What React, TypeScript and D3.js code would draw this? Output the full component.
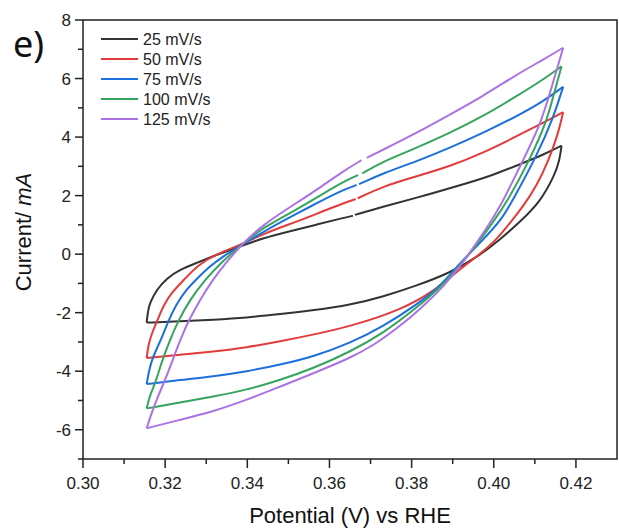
import React from "react";
import * as d3 from "d3";

type P = [number, number] | null;

// Scan-rate legend labels
const seriesLabels = ["25 mV/s", "50 mV/s", "75 mV/s", "100 mV/s", "125 mV/s"];
const seriesColors = ["#333333", "#e23b3b", "#1c6fdc", "#35a45e", "#ab72e4"];

// Axis ticks
const xMajorTicks = [0.30, 0.32, 0.34, 0.36, 0.38, 0.40, 0.42];
const xMinorTicks = [0.31, 0.33, 0.35, 0.37, 0.39, 0.41];
const yMajorTicks = [8, 6, 4, 2, 0, -2, -4, -6];
const yMinorTicks = [7, 5, 3, 1, -1, -3, -5, -7];

// 25 mV/s
const anodic25: P[] = [
  [0.3155, -2.34], [0.3158, -1.95], [0.3163, -1.66], [0.3179, -1.22], [0.3204, -0.82], [0.3236, -0.53],
  [0.3277, -0.30], [0.3325, -0.02], [0.3382, 0.26], [0.3439, 0.55], [0.3504, 0.78],
  [0.3569, 1.01], [0.3634, 1.24], [0.3657, 1.31], null, [0.3662, 1.34],
  [0.3731, 1.63], [0.3812, 1.92], [0.3910, 2.32], [0.3991, 2.66], [0.4072, 3.12],
  [0.4121, 3.40], [0.4165, 3.71],
];
const cathodic25: P[] = [
  [0.4165, 3.71], [0.4160, 3.20], [0.4149, 2.72], [0.4112, 1.76], [0.4064, 1.11], [0.4015, 0.49],
  [0.3958, -0.12], [0.3893, -0.64], [0.3812, -1.08], [0.3731, -1.45], [0.3650, -1.74],
  [0.3561, -1.92], [0.3480, -2.05], [0.3398, -2.17], [0.3317, -2.24], [0.3236, -2.30],
  [0.3155, -2.34],
];

// 50 mV/s
const anodic50: P[] = [
  [0.3155, -3.55], [0.3159, -3.10], [0.3168, -2.69], [0.3180, -2.31], [0.3195, -1.77],
  [0.3217, -1.29], [0.3246, -0.88], [0.3277, -0.40], [0.3325, 0.01], [0.3382, 0.30],
  [0.3439, 0.70], [0.3520, 1.11], [0.3569, 1.38], [0.3634, 1.74], [0.3664, 1.88], null,
  [0.3669, 1.91], [0.3731, 2.32], [0.3812, 2.66], [0.3893, 3.00], [0.3974, 3.46],
  [0.4056, 4.03], [0.4121, 4.49], [0.4169, 4.85],
];
const cathodic50: P[] = [
  [0.4169, 4.85], [0.4156, 4.08], [0.4134, 3.23], [0.4105, 2.34], [0.4071, 1.62],
  [0.4042, 1.11], [0.4007, 0.49], [0.3958, -0.09], [0.3910, -0.60], [0.3853, -1.28],
  [0.3772, -1.92], [0.3650, -2.47], [0.3561, -2.75], [0.3480, -2.98], [0.3398, -3.19],
  [0.3317, -3.33], [0.3236, -3.44], [0.3155, -3.55],
];

// 75 mV/s
const anodic75: P[] = [
  [0.3155, -4.44], [0.3161, -3.96], [0.3168, -3.61], [0.3178, -3.27], [0.3192, -2.86],
  [0.3207, -2.31], [0.3226, -1.74], [0.3251, -1.22], [0.3275, -0.88], [0.3304, -0.47],
  [0.3343, -0.05], [0.3382, 0.27], [0.3439, 0.77], [0.3520, 1.38], [0.3569, 1.74],
  [0.3634, 2.20], [0.3666, 2.36], null, [0.3672, 2.39], [0.3731, 2.77], [0.3812, 3.17],
  [0.3893, 3.63], [0.3974, 4.14], [0.4056, 4.71], [0.4121, 5.22], [0.4169, 5.72],
];
const cathodic75: P[] = [
  [0.4169, 5.72], [0.4145, 4.66], [0.4104, 3.34], [0.4047, 1.86], [0.4019, 1.18],
  [0.3974, 0.49], [0.3918, -0.30], [0.3869, -1.11], [0.3812, -1.73], [0.3731, -2.47],
  [0.3650, -3.04], [0.3561, -3.50], [0.3480, -3.78], [0.3398, -4.01], [0.3317, -4.18],
  [0.3236, -4.30], [0.3155, -4.44],
];

// 100 mV/s
const anodic100: P[] = [
  [0.3155, -5.27], [0.3163, -4.81], [0.3175, -4.44], [0.3185, -3.99], [0.3195, -3.55],
  [0.3212, -2.93], [0.3231, -2.30], [0.3260, -1.56], [0.3297, -0.88], [0.3338, -0.26],
  [0.3382, 0.27], [0.3439, 0.92], [0.3520, 1.52], [0.3569, 1.93], [0.3634, 2.48],
  [0.3670, 2.70], null, [0.3680, 2.76], [0.3731, 3.17], [0.3812, 3.63], [0.3893, 4.14],
  [0.3974, 4.71], [0.4056, 5.40], [0.4121, 5.97], [0.4165, 6.42],
];
const cathodic100: P[] = [
  [0.4165, 6.42], [0.4145, 5.40], [0.4129, 4.54], [0.4088, 3.23], [0.4031, 1.75],
  [0.3999, 1.11], [0.3966, 0.46], [0.3926, -0.25], [0.3877, -1.05], [0.3812, -1.84],
  [0.3731, -2.70], [0.3650, -3.34], [0.3561, -3.90], [0.3480, -4.30], [0.3398, -4.64],
  [0.3317, -4.87], [0.3236, -5.07], [0.3155, -5.27],
];

// 125 mV/s
const anodic125: P[] = [
  [0.3155, -5.95], [0.3168, -5.39], [0.3183, -4.84], [0.3200, -4.30], [0.3220, -3.55],
  [0.3239, -2.86], [0.3256, -2.30], [0.3285, -1.56], [0.3314, -0.91], [0.3346, -0.33],
  [0.3382, 0.27], [0.3439, 1.02], [0.3520, 1.75], [0.3569, 2.20], [0.3634, 2.84],
  [0.3678, 3.21], null, [0.3691, 3.29], [0.3731, 3.57], [0.3812, 4.14], [0.3893, 4.77],
  [0.3974, 5.40], [0.4056, 6.14], [0.4121, 6.65], [0.4169, 7.05],
];
const cathodic125: P[] = [
  [0.4169, 7.05], [0.4137, 5.51], [0.4112, 4.37], [0.4064, 3.00], [0.4015, 1.59],
  [0.3983, 0.90], [0.3950, 0.22], [0.3918, -0.42], [0.3877, -1.11], [0.3828, -1.79],
  [0.3764, -2.55], [0.3707, -3.12], [0.3650, -3.55], [0.3561, -4.07], [0.3480, -4.53],
  [0.3398, -4.98], [0.3317, -5.38], [0.3236, -5.66], [0.3155, -5.95],
];

const anodicAll = [anodic25, anodic50, anodic75, anodic100, anodic125];
const cathodicAll = [cathodic25, cathodic50, cathodic75, cathodic100, cathodic125];

const W = 619;
const H = 528;
const left = 83, right = 617, top = 20, bottom = 459;
const FONT = "Arial, 'Liberation Sans', sans-serif";
const AXIS = "#222";

export default function App() {
  const x = d3.scaleLinear().domain([0.30, 0.43]).range([left, right]);
  const y = d3.scaleLinear().domain([-7, 8]).range([bottom, top]);
  const line = d3
    .line<P>()
    .defined((d) => d !== null)
    .x((d) => x((d as [number, number])[0]))
    .y((d) => y((d as [number, number])[1]))
    .curve(d3.curveBasis);

  return (
    <svg
      width={W}
      height={H}
      viewBox={`0 0 ${W} ${H}`}
      style={{ position: "absolute", left: 0, top: 0, background: "#fff" }}
      fontFamily={FONT}
    >
      <rect x={0} y={0} width={W} height={H} fill="#fff" />
      {/* curves */}
      <g fill="none" strokeWidth={2} strokeLinejoin="round" strokeLinecap="butt">
        {seriesLabels.map((s, k) => (
          <g key={s} stroke={seriesColors[k]}>
            <path d={line(anodicAll[k]) || ""} />
            <path d={line(cathodicAll[k]) || ""} />
          </g>
        ))}
      </g>
      {/* frame */}
      <rect
        x={left}
        y={top}
        width={right - left}
        height={bottom - top}
        fill="none"
        stroke={AXIS}
        strokeWidth={1.5}
      />
      {/* x ticks */}
      {xMajorTicks.map((t) => (
        <g key={"xm" + t}>
          <line x1={x(t)} x2={x(t)} y1={bottom} y2={bottom + 9} stroke={AXIS} strokeWidth={1.5} />
          <text x={x(t)} y={489} textAnchor="middle" fontSize={17} fill="#222">
            {t.toFixed(2)}
          </text>
        </g>
      ))}
      {xMinorTicks.map((t) => (
        <line key={"xn" + t} x1={x(t)} x2={x(t)} y1={bottom} y2={bottom + 5} stroke={AXIS} strokeWidth={1.5} />
      ))}
      {/* y ticks */}
      {yMajorTicks.map((t) => (
        <g key={"ym" + t}>
          <line x1={left - 8} x2={left} y1={y(t)} y2={y(t)} stroke={AXIS} strokeWidth={1.5} />
          <text x={71} y={y(t) + 6} textAnchor="end" fontSize={17} fill="#222">
            {t}
          </text>
        </g>
      ))}
      {yMinorTicks.map((t) => (
        <line key={"yn" + t} x1={left - 5} x2={left} y1={y(t)} y2={y(t)} stroke={AXIS} strokeWidth={1.5} />
      ))}
      {/* axis titles */}
      <text x={350} y={523} textAnchor="middle" fontSize={22} fill="#111">
        Potential (V) vs RHE
      </text>
      <text
        transform={`translate(31,232) rotate(-90)`}
        textAnchor="middle"
        fontSize={22}
        fill="#111"
      >
        Current/ <tspan fontStyle="italic">mA</tspan>
      </text>
      {/* panel label */}
      <text x={13} y={57} fontSize={36} fill="#111" fontFamily="'Noto Sans', 'Open Sans', sans-serif">
        e)
      </text>
      {/* legend */}
      {seriesLabels.map((s, k) => (
        <g key={"lg" + s}>
          <line
            x1={101}
            x2={138}
            y1={39 + k * 20}
            y2={39 + k * 20}
            stroke={seriesColors[k]}
            strokeWidth={2}
          />
          <text x={143} y={39 + k * 20 + 5.5} fontSize={16} fill="#222">
            {s}
          </text>
        </g>
      ))}
    </svg>
  );
}
